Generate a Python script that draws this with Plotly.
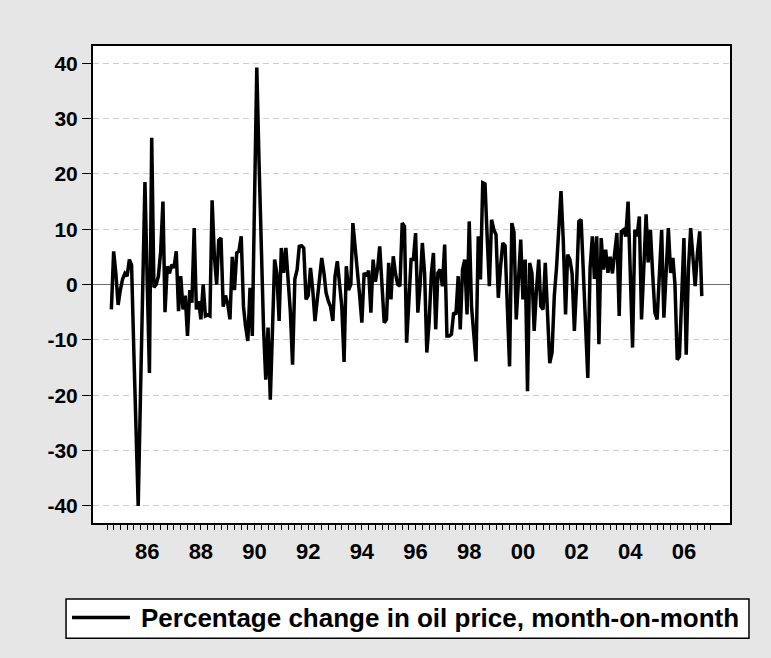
import pandas as pd
import plotly.graph_objects as go

# Monthly percentage change in oil price (month-on-month)
pct_change = [
    -4.5, 6, 2, -3.7, -1, 1, 2, 1.5, 4.5, 3.5, -12.3, -26,
    -40, -20, -1, 18.5, 1, -16, 26.5, -0.5, 0, 1.5, 6, 15,
    -5, 3.3, 2, 3.6, 3, 6, -4.8, 1.5, -4.5, -2, -9.3, -1,
    -3.3, 10.2, -4.5, -3, -6.3, 0, -5.7, -5.5, -5.7, 15.2, 5, 0,
    8, 8.4, -4, -2, -3.5, -6.3, 5, -1, 5.7, 6, 8.7, -4,
    -7.5, -10.2, -0.6, -9.3, 15, 39.2, 22, 6, -8, -17.2, -7.8, -20.8,
    -8, 4.5, 2, -6.6, 6.6, 2.1, 6.6, 0, -5, -14.5, 1, 2.7,
    6.9, 7, 6.6, -2.7, -2, 3, -1, -6.6, -3, 1, 4.8, 2,
    -1.5, -3, -4, -6.6, 1.5, 4.2, 0.5, -4, -14, 3.3, -1, 0,
    11.1, 7, 3, -2, -6.9, 2.1, 1.5, 2.5, -5.1, 4.5, 0.5, 3,
    6.9, 0, -6.9, -6.3, 3.9, -2.7, 5.1, 2, 0, -0.3, 11.1, 10.5,
    -10.5, -3, 4.5, 4.5, 9.3, -5.1, 0, 7.5, 2, -12.3, -6.9, 2,
    5.7, -8.1, 2.1, 2.7, -0.3, 7.2, -9.3, -9.3, -9, -5.1, -5.4, 1.5,
    -8.1, 2.7, 4.5, -5.4, 11.4, -3.9, -9, -13.9, 8.7, 0.9, 18.4, 18.2,
    9, -0.3, 11.7, 9.9, 9, -2.4, 3.3, 7.5, 7, -3, -14.8, 11.1,
    9.5, -6.3, 1, 8.1, -2.7, 4.5, -19.3, 3.9, 2, -8.4, -1, 4.5,
    -3.9, -4.5, 3.9, -5, -14.2, -12.3, -2, 3, 10, 16.9, 8, -5.4,
    5.4, 4.5, 2, -8.4, 0, 11.4, 11.7, 2, -8, -16.9, 3, 8.7,
    1, 8.7, -10.8, 8.4, 2.7, 6.3, 2.1, 5, 2, 6, 9.3, -5.7,
    9.6, 9.9, 8.7, 15, 2, -11.4, 9.9, 8.7, 12.3, -6.3, 3, 12.7,
    4, 9.9, 2, -5.1, -6.3, 2, 9.9, -6, 2, 10.2, 2.1, 4.8,
    0, -13.6, -13, -3, 8.4, -12.7, 3, 10.2, 5, -0.3, 5.7, 9.6,
    -2.1,
]
start_month = "1985-03-01"
dates = pd.date_range(start_month, periods=len(pct_change), freq="MS")

year_ticks = pd.date_range("1985-01-01", "2007-01-01", freq="YS")
quarter_ticks = pd.date_range("1985-01-01", "2007-07-01", freq="QS")
label_years = list(range(1986, 2007, 2))
label_pos = [pd.Timestamp(f"{y}-07-01") for y in label_years]
label_text = [f"{y % 100:02d}" for y in label_years]
y_ticks = [-40, -30, -20, -10, 0, 10, 20, 30, 40]
y_text = [str(v) for v in y_ticks]
legend_label = "Percentage change in oil price, month-on-month"

x_range = ["1984-06-24", "2008-03-19"]
FONT = "Arial, Liberation Sans, sans-serif"

fig = go.Figure()
fig.add_trace(go.Scatter(
    x=dates, y=pct_change, mode="lines",
    line=dict(color="black", width=3.5),
    name=legend_label, showlegend=False,
))
fig.add_trace(go.Scatter(
    x=[dates[0]], y=[None], xaxis="x2", yaxis="y",
    mode="lines", showlegend=False, hoverinfo="skip",
))

fig.update_layout(
    width=771, height=658,
    margin=dict(l=93, r=41, t=46, b=135),
    paper_bgcolor="#E6E6E6",
    plot_bgcolor="white",
    font=dict(family=FONT, color="black"),
    xaxis=dict(
        type="date", range=x_range,
        tickmode="array", tickvals=year_ticks, ticktext=[""] * len(year_ticks),
        ticks="outside", ticklen=8, tickwidth=1, tickcolor="black",
        minor=dict(tickmode="array", tickvals=quarter_ticks, ticks="outside",
                   ticklen=5, tickwidth=1, tickcolor="black", showgrid=False),
        showgrid=False, zeroline=False,
        showline=True, mirror=True, linecolor="black", linewidth=2,
    ),
    xaxis2=dict(
        type="date", range=x_range, overlaying="x", anchor="y", side="bottom",
        tickmode="array", tickvals=label_pos, ticktext=label_text,
        ticks="outside", ticklen=9, tickcolor="rgba(0,0,0,0)",
        tickfont=dict(family=FONT, size=22, weight="bold", color="black"),
        showgrid=False, zeroline=False, showline=False,
    ),
    yaxis=dict(
        range=[-43.1, 43.1],
        tickmode="array", tickvals=y_ticks, ticktext=y_text,
        ticks="outside", ticklen=9, tickwidth=1, tickcolor="black",
        tickfont=dict(family=FONT, size=21, weight="bold", color="black"),
        showgrid=True, gridcolor="#CDCDCD", gridwidth=1, griddash="6px,4px",
        zeroline=True, zerolinecolor="#6E6E6E", zerolinewidth=1,
        showline=True, mirror=True, linecolor="black", linewidth=2,
    ),
)

# Legend box drawn below the plot
fig.add_shape(type="rect", xref="paper", yref="paper",
              x0=-0.0423, x1=1.0298, y0=-0.1591, y1=-0.2417,
              fillcolor="white", line=dict(color="black", width=1.5), layer="above")
fig.add_shape(type="line", xref="paper", yref="paper",
              x0=-0.0329, x1=0.058, y0=-0.1983, y1=-0.1983,
              line=dict(color="black", width=3.5), layer="above")
fig.add_annotation(xref="paper", yref="paper", x=0.0721, y=-0.1983,
                   xanchor="left", yanchor="middle", showarrow=False,
                   text=legend_label,
                   font=dict(family=FONT, size=26, weight="bold", color="black"))

fig.write_html("out.html", config={"displayModeBar": False},
               post_script="document.body.style.margin='0';")
